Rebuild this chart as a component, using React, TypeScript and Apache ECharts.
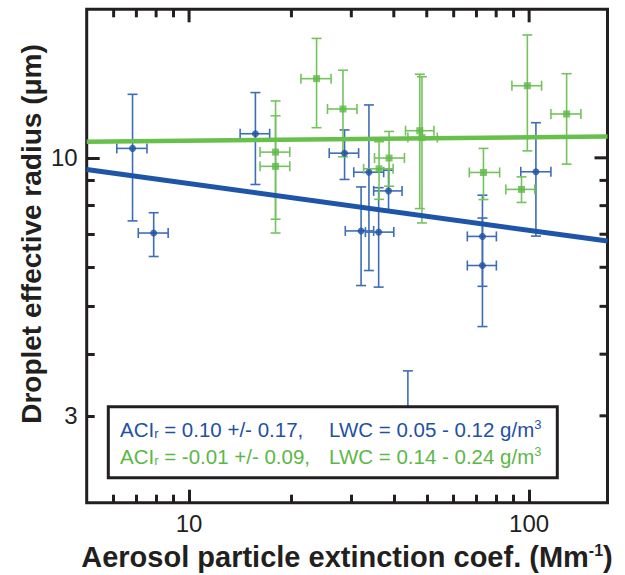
import React, { useEffect, useRef } from "react";
import * as echarts from "echarts";

// ---- data ----
const blueX = [6.82, 15.67, 7.87, 28.66, 33.8, 38.6, 32.05, 36.1, 72.9, 72.9, 104.7, 44.0];
const blueY = [10.45, 11.19, 7.04, 10.22, 9.35, 8.57, 7.11, 7.07, 6.93, 6.05, 9.37, 3.07];
const blueXLo = [6.13, 14.13, 7.09, 25.83, 30.5, 34.9, 28.8, 33.0, 65.8, 65.8, 94.5, 39.8];
const blueXHi = [7.52, 17.26, 8.68, 31.52, 37.35, 42.3, 34.9, 40.0, 80.1, 80.1, 115.9, 48.5];
const blueYLo = [7.45, 8.83, 6.31, 9.04, 5.91, 7.76, 5.51, 5.47, 5.49, 4.55, 6.94, 2.44];
const blueYHi = [13.45, 13.56, 7.74, 11.39, 12.8, 9.44, 8.73, 8.7, 8.4, 7.55, 11.78, 3.7];

const greenX = [17.96, 17.96, 23.71, 28.35, 38.74, 36.2, 47.7, 48.4, 73.4, 98.8, 94.97, 128.9];
const greenY = [10.27, 9.61, 14.47, 12.56, 9.99, 9.5, 11.35, 10.99, 9.34, 14.0, 8.63, 12.27];
const greenXLo = [16.17, 16.17, 21.33, 25.53, 35.1, 32.6, 43.3, 44.0, 66.7, 89.0, 85.4, 115.9];
const greenXHi = [19.78, 19.78, 26.16, 31.17, 42.98, 39.8, 52.5, 53.7, 81.9, 108.8, 103.9, 142.0];
const greenYLo = [7.51, 7.04, 11.51, 10.05, 8.76, 8.24, 7.89, 7.38, 8.23, 10.33, 8.12, 9.71];
const greenYHi = [13.04, 12.17, 17.46, 15.05, 11.31, 10.78, 14.77, 14.6, 10.45, 17.74, 9.15, 14.81];

const blueFitX = [5, 170];
const blueFitY = [9.47, 6.78];
const greenFitX = [5, 170];
const greenFitY = [10.78, 11.05];

const xRange = [5, 170];
const yRange = [2, 20];
const xMinorTicks = [6, 7, 8, 9, 20, 30, 40, 50, 60, 70, 80, 90];
const xMajorTicks = [10, 100];
const xTickLabels = [10, 100];
const yMinorTicks = [3, 4, 5, 6, 7, 8, 9];
const yMajorTicks = [10];
const yTickLabels = [3, 10];

const BLUE = "#1f51a3";
const BLUE_BAR = "#3e6db6";
const GREEN = "#5cb846";
const GREEN_BAR = "#74c35e";
const BLUE_FIT = "#1f55a8";
const GREEN_FIT = "#66c04a";
const INK = "#231f20";
const FONT = "'Liberation Sans', Arial, sans-serif";

const MINOR_LEN = 8;
const MAJOR_LEN = 13;
const TICK_W = 3;

function rows(x: number[], y: number[], xl: number[], xh: number[], yl: number[], yh: number[]) {
  return x.map((v, i) => [v, y[i], xl[i], xh[i], yl[i], yh[i]]);
}

function errorBarSeries(data: number[][], color: string) {
  return {
    type: "custom",
    xAxisIndex: 0,
    yAxisIndex: 0,
    z: 2,
    encode: { x: 0, y: 1 },
    data,
    renderItem: (params: any, api: any) => {
      const x = api.value(0);
      const y = api.value(1);
      const xl = api.coord([api.value(2), y]);
      const xh = api.coord([api.value(3), y]);
      const yl = api.coord([x, api.value(4)]);
      const yh = api.coord([x, api.value(5)]);
      const cap = 5;
      const style = { stroke: color, lineWidth: 1.6, fill: null };
      const ln = (x1: number, y1: number, x2: number, y2: number) => ({
        type: "line",
        shape: { x1, y1, x2, y2 },
        style,
      });
      return {
        type: "group",
        children: [
          ln(yl[0], yl[1], yh[0], yh[1]),
          ln(yl[0] - cap, yl[1], yl[0] + cap, yl[1]),
          ln(yh[0] - cap, yh[1], yh[0] + cap, yh[1]),
          ln(xl[0], xl[1], xh[0], xh[1]),
          ln(xl[0], xl[1] - cap, xl[0], xl[1] + cap),
          ln(xh[0], xh[1] - cap, xh[0], xh[1] + cap),
        ],
      };
    },
  };
}

// mirrored ticks on the top and right frame: [x, y, length, orientation]
function mirrorTickRows() {
  const out: number[][] = [];
  xMinorTicks.forEach((v) => out.push([v, yRange[1], MINOR_LEN, 0]));
  xMajorTicks.forEach((v) => out.push([v, yRange[1], MAJOR_LEN, 0]));
  yMinorTicks.forEach((v) => out.push([xRange[1], v, MINOR_LEN, 1]));
  yMajorTicks.forEach((v) => out.push([xRange[1], v, MAJOR_LEN, 1]));
  return out;
}

function makeMirrorTicks() {
  return {
    type: "custom",
    xAxisIndex: 0,
    yAxisIndex: 0,
    z: 10,
    encode: { x: 0, y: 1 },
    data: mirrorTickRows(),
    renderItem: (params: any, api: any) => {
      const p = api.coord([api.value(0), api.value(1)]);
      const len = api.value(2);
      const orient = api.value(3);
      const style = { stroke: INK, lineWidth: TICK_W, fill: null };
      if (orient === 0) {
        return { type: "line", shape: { x1: p[0], y1: p[1], x2: p[0], y2: p[1] + len }, style };
      }
      return { type: "line", shape: { x1: p[0], y1: p[1], x2: p[0] - len, y2: p[1] }, style };
    },
  };
}

function xAxisDef(ticks: number[], len: number, labels: number[] | null) {
  return {
    type: "log",
    logBase: 10,
    min: xRange[0],
    max: xRange[1],
    position: "bottom",
    splitLine: { show: false },
    axisLine: { show: false },
    axisTick: { show: true, inside: true, length: len, customValues: ticks, lineStyle: { color: INK, width: TICK_W } },
    axisLabel: labels
      ? { show: true, customValues: labels, margin: 9, fontSize: 24, color: INK, fontFamily: FONT }
      : { show: false },
  };
}

function yAxisDef(ticks: number[], len: number, labels: number[] | null) {
  return {
    type: "log",
    logBase: 10,
    min: yRange[0],
    max: yRange[1],
    position: "left",
    splitLine: { show: false },
    axisLine: { show: false },
    axisTick: { show: true, inside: true, length: len, customValues: ticks, lineStyle: { color: INK, width: TICK_W } },
    axisLabel: labels
      ? { show: true, customValues: labels, margin: 9, fontSize: 24, color: INK, fontFamily: FONT }
      : { show: false },
  };
}

export default function App() {
  const ref = useRef<HTMLDivElement>(null);
  useEffect(() => {
    if (!ref.current) return;
    const chart = echarts.init(ref.current, null, { renderer: "svg" });
    const blueRows = rows(blueX, blueY, blueXLo, blueXHi, blueYLo, blueYHi);
    const greenRows = rows(greenX, greenY, greenXLo, greenXHi, greenYLo, greenYHi);
    chart.setOption({
      animation: false,
      grid: {
        left: 86.7,
        right: 17.5,
        top: 9.3,
        bottom: 72.3,
        containLabel: false,
        show: true,
        borderColor: INK,
        borderWidth: 3,
      },
      xAxis: [xAxisDef(xMinorTicks, MINOR_LEN, xTickLabels), xAxisDef(xMajorTicks, MAJOR_LEN, null)],
      yAxis: [yAxisDef(yMinorTicks, MINOR_LEN, yTickLabels), yAxisDef(yMajorTicks, MAJOR_LEN, null)],
      series: [
        errorBarSeries(blueRows, BLUE_BAR),
        errorBarSeries(greenRows, GREEN_BAR),
        {
          type: "scatter",
          xAxisIndex: 0,
          yAxisIndex: 0,
          z: 3,
          symbol: "circle",
          symbolSize: 7,
          itemStyle: { color: BLUE },
          data: blueX.map((v, i) => [v, blueY[i]]),
        },
        {
          type: "scatter",
          xAxisIndex: 0,
          yAxisIndex: 0,
          z: 3,
          symbol: "rect",
          symbolSize: 7,
          itemStyle: { color: GREEN },
          data: greenX.map((v, i) => [v, greenY[i]]),
        },
        {
          type: "line",
          xAxisIndex: 0,
          yAxisIndex: 0,
          z: 4,
          symbol: "none",
          lineStyle: { color: BLUE_FIT, width: 5 },
          data: blueFitX.map((v, i) => [v, blueFitY[i]]),
        },
        {
          type: "line",
          xAxisIndex: 0,
          yAxisIndex: 0,
          z: 4,
          symbol: "none",
          lineStyle: { color: GREEN_FIT, width: 4.6 },
          data: greenFitX.map((v, i) => [v, greenFitY[i]]),
        },
        makeMirrorTicks(),
      ],
      graphic: [
        {
          type: "rect",
          z: 100,
          shape: { x: 108.3, y: 406.7, width: 449, height: 71 },
          style: { fill: "#ffffff", stroke: INK, lineWidth: 3 },
        },
        {
          type: "text",
          z: 101,
          x: 120,
          y: 429,
          style: {
            text: "{a|ACI}{s|r}{a| = 0.10 +/- 0.17,}",
            verticalAlign: "middle",
            rich: {
              a: { fontSize: 20.5, fontFamily: FONT, fill: BLUE },
              s: { fontSize: 13, fontFamily: FONT, fill: BLUE, verticalAlign: "bottom", padding: [8, 0, 0, 0] },
            },
          },
        },
        {
          type: "text",
          z: 101,
          x: 329,
          y: 429,
          style: {
            text: "{a|LWC = 0.05 - 0.12 g/m}{p|3}",
            verticalAlign: "middle",
            rich: {
              a: { fontSize: 20.5, fontFamily: FONT, fill: BLUE },
              p: { fontSize: 13, fontFamily: FONT, fill: BLUE, verticalAlign: "top", padding: [0, 0, 10, 0] },
            },
          },
        },
        {
          type: "text",
          z: 101,
          x: 120,
          y: 456,
          style: {
            text: "{a|ACI}{s|r}{a| = -0.01 +/- 0.09,}",
            verticalAlign: "middle",
            rich: {
              a: { fontSize: 20.5, fontFamily: FONT, fill: GREEN },
              s: { fontSize: 13, fontFamily: FONT, fill: GREEN, verticalAlign: "bottom", padding: [8, 0, 0, 0] },
            },
          },
        },
        {
          type: "text",
          z: 101,
          x: 329,
          y: 456,
          style: {
            text: "{a|LWC = 0.14 - 0.24 g/m}{p|3}",
            verticalAlign: "middle",
            rich: {
              a: { fontSize: 20.5, fontFamily: FONT, fill: GREEN },
              p: { fontSize: 13, fontFamily: FONT, fill: GREEN, verticalAlign: "top", padding: [0, 0, 10, 0] },
            },
          },
        },
        {
          type: "text",
          x: 347,
          y: 557,
          style: {
            text: "{a|Aerosol particle extinction coef. (Mm}{p|-1}{a|)}",
            align: "center",
            verticalAlign: "middle",
            rich: {
              a: { fontSize: 29, fontWeight: "bold", fontFamily: FONT, fill: INK },
              p: { fontSize: 16, fontWeight: "bold", fontFamily: FONT, fill: INK, verticalAlign: "top", padding: [0, 0, 14, 0] },
            },
          },
        },
        {
          type: "text",
          x: 31,
          y: 234,
          rotation: Math.PI / 2,
          style: {
            text: "Droplet effective radius (\u03bcm)",
            align: "center",
            verticalAlign: "middle",
            fontSize: 28,
            fontWeight: "bold",
            fontFamily: FONT,
            fill: INK,
          },
        },
      ],
    });
    return () => chart.dispose();
  }, []);
  return (
    <div
      ref={ref}
      style={{ position: "absolute", left: 0, top: 0, width: 625, height: 575 }}
    />
  );
}
